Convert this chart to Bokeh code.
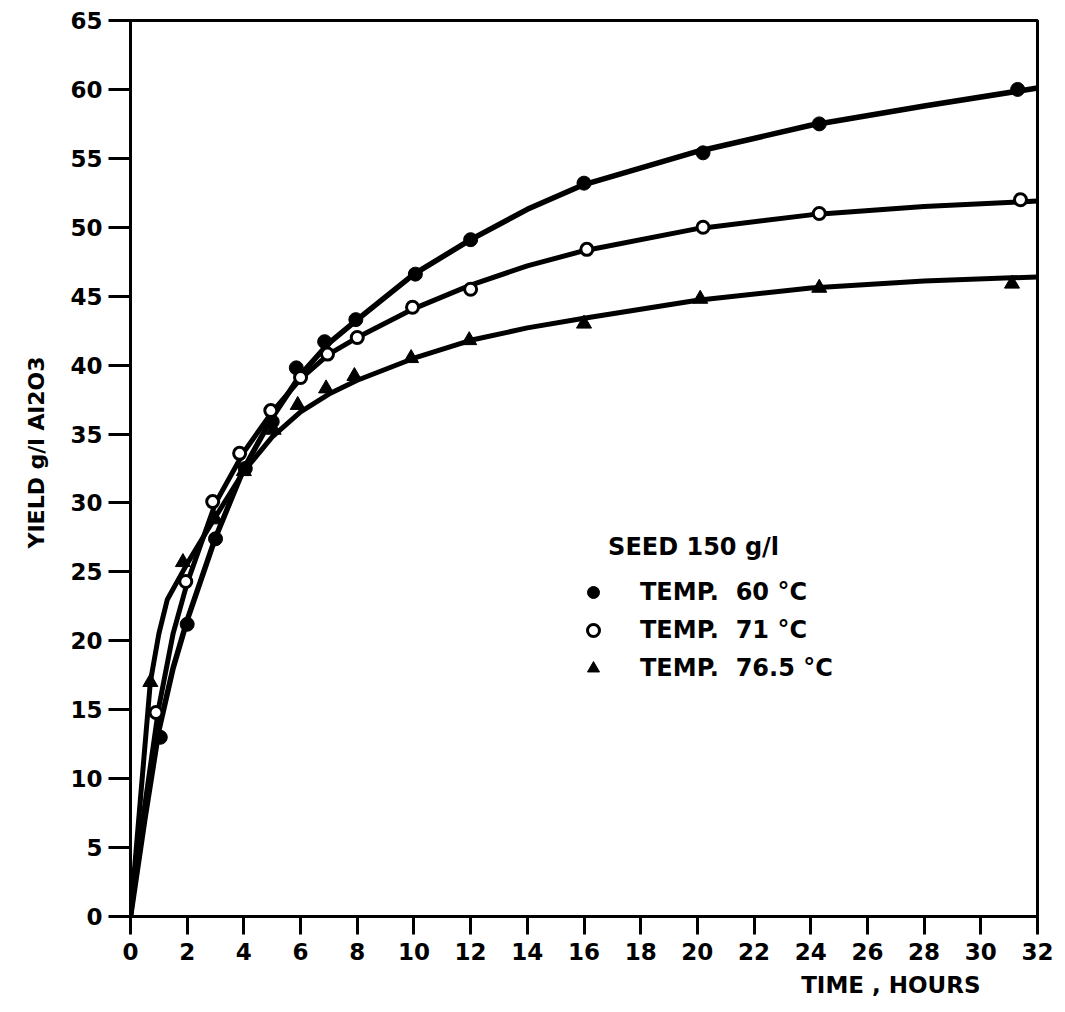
from bokeh.plotting import figure
from bokeh.models import Range1d, Label, Legend, LegendItem, FixedTicker, Title
from bokeh.embed import file_html
from bokeh.resources import INLINE

# measured points
t60 = [1.05, 2.0, 3.0, 4.05, 5.0, 5.85, 6.85, 7.95, 10.05, 12.0, 16.0, 20.2, 24.3, 31.3]
y60 = [13.0, 21.2, 27.4, 32.5, 35.9, 39.8, 41.7, 43.3, 46.6, 49.1, 53.2, 55.4, 57.5, 60.0]

t71 = [0.9, 1.95, 2.9, 3.85, 4.95, 6.0, 6.95, 8.0, 9.95, 12.0, 16.1, 20.2, 24.3, 31.4]
y71 = [14.8, 24.3, 30.1, 33.6, 36.7, 39.1, 40.8, 42.0, 44.2, 45.5, 48.4, 50.0, 51.0, 52.0]

t765 = [0.7, 1.85, 3.0, 4.0, 5.05, 5.9, 6.9, 7.9, 9.9, 11.95, 16.0, 20.1, 24.3, 31.1]
y765 = [17.0, 25.7, 28.8, 32.3, 35.3, 37.1, 38.3, 39.2, 40.5, 41.8, 43.0, 44.8, 45.6, 45.9]

# smooth fitted curves
ct = [0, 0.5, 1, 1.5, 2, 3, 4, 5, 6, 7, 8, 10, 12, 14, 16, 20, 24, 28, 32]
c60 = [0, 7.0, 13.5, 18.0, 21.5, 27.5, 32.5, 36.2, 39.3, 41.6, 43.3, 46.6, 49.1, 51.3, 53.1, 55.5, 57.4, 58.8, 60.1]
c71 = [0, 8.0, 15.2, 20.5, 24.2, 30.0, 33.7, 36.6, 39.0, 40.8, 42.0, 44.1, 45.8, 47.2, 48.3, 49.9, 50.9, 51.5, 51.9]
ct765 = [0, 0.35, 0.7, 1.0, 1.3, 2, 3, 4, 5, 6, 7, 8, 10, 12, 14, 16, 20, 24, 28, 32]
c765 = [0, 8.5, 17.0, 20.5, 23.0, 25.6, 29.0, 32.3, 34.8, 36.6, 37.9, 38.9, 40.5, 41.8, 42.7, 43.4, 44.7, 45.6, 46.1, 46.4]

x_ticks = list(range(0, 33, 2))
y_ticks = list(range(0, 66, 5))

legend_title = "SEED 150 g/l"
legend_labels = ["TEMP.  60 °C", "TEMP.  71 °C", "TEMP.  76.5 °C"]
x_title = "TIME , HOURS"
y_title = "YIELD  g/l Al2O3"

FONT = "DejaVu Sans"

p = figure(width=1065, height=1012, output_backend="svg", toolbar_location=None,
           x_range=Range1d(0, 32), y_range=Range1d(0, 65),
           min_border_left=130, min_border_right=28, min_border_top=20, min_border_bottom=96)
p.background_fill_color = "white"
p.border_fill_color = "white"
p.outline_line_color = "black"
p.outline_line_width = 3
p.xgrid.visible = False
p.ygrid.visible = False

for ax in (p.xaxis[0], p.yaxis[0]):
    ax.axis_line_width = 3
    ax.axis_line_color = "black"
    ax.major_tick_line_width = 3
    ax.major_tick_line_color = "black"
    ax.minor_tick_line_color = None
    ax.major_tick_in = 0
    ax.major_label_text_font = FONT
    ax.major_label_text_font_style = "bold"
    ax.major_label_text_font_size = "23px"
    ax.major_label_text_color = "black"

p.xaxis[0].ticker = FixedTicker(ticks=x_ticks)
p.yaxis[0].ticker = FixedTicker(ticks=y_ticks)
p.xaxis[0].major_tick_out = 18
p.xaxis[0].major_label_standoff = 8
p.yaxis[0].major_tick_out = 22
p.yaxis[0].major_label_standoff = 6

p.add_layout(Title(text=y_title, align="left", offset=368, text_font=FONT,
                   text_font_style="bold", text_font_size="22px",
                   text_color="black", standoff=38), "left")

p.add_layout(Title(text=x_title, align="right", offset=57, text_font=FONT,
                   text_font_style="bold", text_font_size="23px",
                   text_color="black", standoff=15), "below")

# curves
p.line(ct, c60, line_color="black", line_width=5.5, line_join="round", line_cap="round")
p.line(ct, c71, line_color="black", line_width=5, line_join="round", line_cap="round")
p.line(ct765, c765, line_color="black", line_width=5, line_join="round", line_cap="round")

# markers
r60 = p.scatter(t60, y60, marker="circle", size=14, fill_color="black", line_color="black")
r71 = p.scatter(t71, y71, marker="circle", size=12, fill_color="white", line_color="black", line_width=3)
r765 = p.scatter(t765, y765, marker="triangle", size=15, fill_color="black", line_color="black")

legend = Legend(items=[LegendItem(label=legend_labels[0], renderers=[r60]),
                       LegendItem(label=legend_labels[1], renderers=[r71]),
                       LegendItem(label=legend_labels[2], renderers=[r765])],
                location=(448, 231), orientation="vertical",
                padding=0, margin=0, spacing=4,
                glyph_width=30, glyph_height=34, label_standoff=32,
                label_text_font=FONT, label_text_font_style="bold",
                label_text_font_size="24px", label_text_color="black",
                border_line_color=None, background_fill_alpha=0)
p.add_layout(legend)

p.add_layout(Label(x=16.85, y=26.8, text=legend_title, text_font=FONT,
                   text_font_style="bold", text_font_size="24px",
                   text_align="left", text_baseline="middle", text_color="black"))

open("out.html", "w").write(file_html(p, INLINE))
